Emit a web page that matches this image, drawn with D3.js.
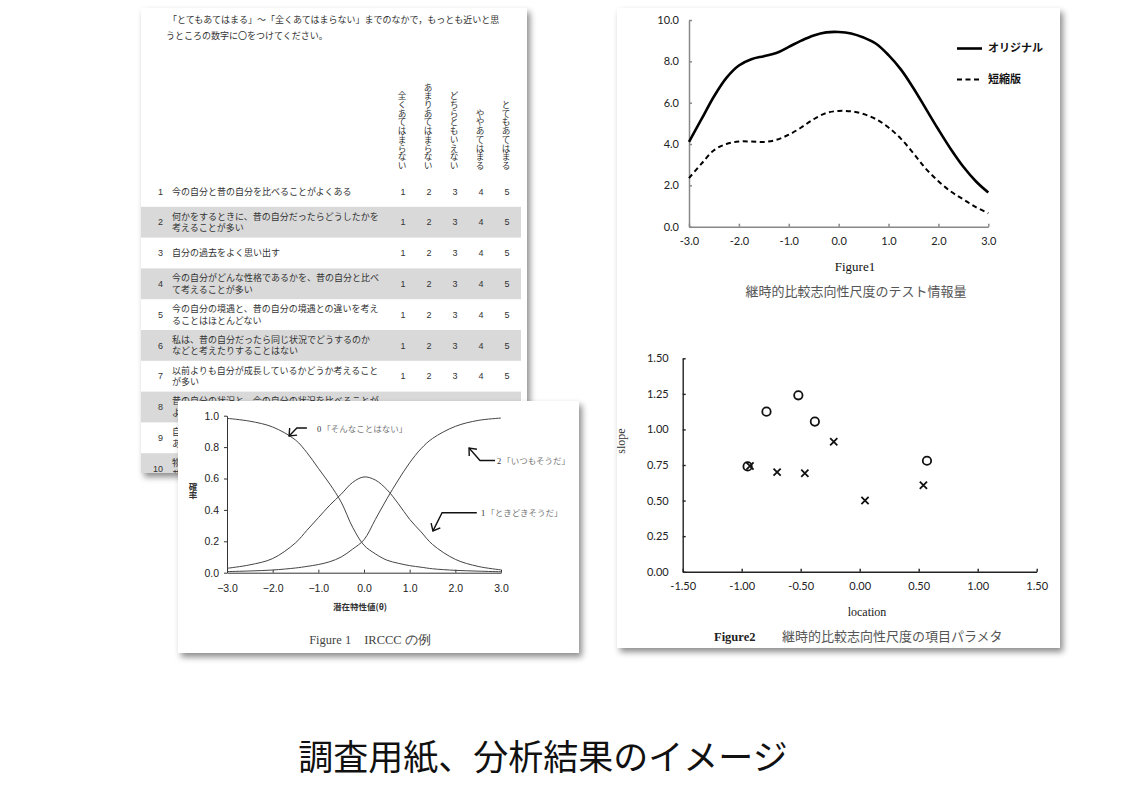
<!DOCTYPE html>
<html>
<head>
<meta charset="utf-8">
<script src="https://cdn.jsdelivr.net/npm/d3@7"></script>
<style>
  body { margin: 0; background: #fff; }
  svg { display: block; }
</style>
</head>
<body>
<svg id="chart" width="1129" height="805"></svg>
<script>
// ---- questionnaire sheet ----
const introLines = [
  '「とてもあてはまる」～「全くあてはまらない」までのなかで，もっとも近いと思',
  'うところの数字に〇をつけてください。'
];
const choiceLabels = ['全くあてはまらない', 'あまりあてはまらない', 'どちらともいえない', 'ややあてはまる', 'とてもあてはまる'];
const choiceValues = [1, 2, 3, 4, 5];
const itemNumbers = [1, 2, 3, 4, 5, 6, 7, 8, 9, 10];
const itemTexts = [
  ['今の自分と昔の自分を比べることがよくある'],
  ['何かをするときに、昔の自分だったらどうしたかを', '考えることが多い'],
  ['自分の過去をよく思い出す'],
  ['今の自分がどんな性格であるかを、昔の自分と比べ', 'て考えることが多い'],
  ['今の自分の境遇と、昔の自分の境遇との違いを考え', 'ることはほとんどない'],
  ['私は、昔の自分だったら同じ状況でどうするのか', 'などと考えたりすることはない'],
  ['以前よりも自分が成長しているかどうか考えること', 'が多い'],
  ['昔の自分の状況と、今の自分の状況を比べることが', 'よくある'],
  ['自分の考え方が昔と変わったかどうか考えることが', 'あまりない'],
  ['物事を判断するときに、昔の自分ならどうしたか', '昔と今を比べてしまう']
];

// ---- IRCCC example ----
const thetaPoints = [-3, -2.5, -2, -1.5, -1.25, -1, -0.75, -0.5, -0.25, 0, 0.25, 0.5, 0.75, 1, 1.25, 1.5, 2, 2.5, 3];
const probCat0 = [0.983, 0.965, 0.928, 0.845, 0.765, 0.665, 0.565, 0.45, 0.29, 0.175, 0.12, 0.08, 0.06, 0.045, 0.035, 0.025, 0.015, 0.01, 0.006];
const probCat1 = [0.028, 0.05, 0.09, 0.19, 0.27, 0.35, 0.43, 0.50, 0.575, 0.61, 0.59, 0.53, 0.44, 0.34, 0.26, 0.18, 0.085, 0.04, 0.018];
const probCat2 = [0.007, 0.011, 0.017, 0.03, 0.04, 0.052, 0.07, 0.10, 0.15, 0.21, 0.34, 0.47, 0.59, 0.70, 0.79, 0.855, 0.932, 0.97, 0.985];
const catNumbers = ['0', '1', '2'];
const catLabels = ['「そんなことはない」', '「ときどきそうだ」', '「いつもそうだ」'];
const probTicks = [0, 0.2, 0.4, 0.6, 0.8, 1.0];
const thetaTicks = [-3, -2, -1, 0, 1, 2, 3];

// ---- test information ----
const infoTheta = [-3, -2.75, -2.5, -2.25, -2, -1.75, -1.5, -1.25, -1, -0.75, -0.5, -0.25, 0, 0.25, 0.5, 0.75, 1, 1.25, 1.5, 1.75, 2, 2.25, 2.5, 2.75, 3];
const infoOriginal = [4.1, 5.2, 6.3, 7.2, 7.8, 8.1, 8.25, 8.4, 8.7, 9.0, 9.25, 9.4, 9.42, 9.35, 9.15, 8.85, 8.3, 7.6, 6.7, 5.7, 4.7, 3.75, 2.9, 2.2, 1.65];
const infoShort = [2.35, 3.05, 3.7, 4.0, 4.12, 4.12, 4.1, 4.2, 4.45, 4.8, 5.2, 5.5, 5.6, 5.58, 5.45, 5.2, 4.8, 4.25, 3.55, 2.8, 2.2, 1.7, 1.32, 0.95, 0.65];
const infoSeries = ['オリジナル', '短縮版'];
const infoTicks = [0, 2, 4, 6, 8, 10];

// ---- item parameters ----
const locCircle = [-0.95, -0.79, -0.52, -0.38, 0.57];
const slopeCircle = [0.74, 1.125, 1.24, 1.055, 0.78];
const locCross = [-0.93, -0.70, -0.465, -0.22, 0.045, 0.54];
const slopeCross = [0.743, 0.70, 0.692, 0.914, 0.50, 0.608];
const locTicks = [-1.5, -1, -0.5, 0, 0.5, 1, 1.5];
const slopeTicks = [0, 0.25, 0.5, 0.75, 1, 1.25, 1.5];

const JP = "'Noto Sans CJK JP', sans-serif";
const SERIF = "'Liberation Serif', serif";

// the IRCCC sheet is laid over the lower part of the questionnaire
const irccBox = { x: 178, y: 401, w: 401, h: 252 };

const svg = d3.select('#chart');
svg.append('rect').attr('width', 1129).attr('height', 805).attr('fill', '#fff');

const defs = svg.append('defs');
const shadow = defs.append('filter').attr('id', 'shadow')
  .attr('x', '-10%').attr('y', '-10%').attr('width', '125%').attr('height', '125%');
shadow.append('feDropShadow')
  .attr('dx', 3).attr('dy', 4).attr('stdDeviation', 3)
  .attr('flood-color', '#000').attr('flood-opacity', 0.45);

function panel(x, y, w, h, clipId) {
  svg.append('rect')
    .attr('x', x).attr('y', y).attr('width', w).attr('height', h)
    .attr('fill', '#fff').attr('filter', 'url(#shadow)');
  defs.append('clipPath').attr('id', clipId)
    .append('rect').attr('x', x).attr('y', y).attr('width', w).attr('height', h);
  return svg.append('g').attr('clip-path', `url(#${clipId})`);
}

function styleAxis(g, color, width, font, size) {
  g.select('.domain').attr('stroke', color).attr('stroke-width', width);
  g.selectAll('.tick line').attr('stroke', color).attr('stroke-width', width);
  g.selectAll('.tick text')
    .attr('font-family', font).attr('font-size', size).attr('fill', '#222');
}

// ================= questionnaire =================
const sheet = panel(141, 8, 386, 465, 'clip-sheet');

sheet.selectAll('.intro')
  .data(introLines)
  .enter()
  .append('text')
    .attr('x', (d, i) => i == 0 ? 168 : 166)
    .attr('y', (d, i) => 23 + i * 16)
    .attr('font-family', JP).attr('font-size', 9).attr('fill', '#333')
    .text(d => d);

const rowY = d3.scaleBand().domain(itemNumbers).range([176, 176 + 30.8 * 10]);
const choiceX = d3.scalePoint().domain(choiceValues).range([403, 507]);

sheet.selectAll('.header')
  .data(choiceLabels)
  .enter()
  .append('text')
    .attr('x', (d, i) => choiceX(choiceValues[i]) - 1)
    .attr('y', 170)
    .attr('text-anchor', 'end')
    .style('writing-mode', 'vertical-rl')
    .attr('font-family', JP).attr('font-size', 8.7).attr('fill', '#333')
    .text(d => d);

let rows = sheet.selectAll('.row')
  .data(itemNumbers)
  .enter()
  .append('g')
    .attr('transform', d => `translate(0,${rowY(d)})`);

rows.filter(d => d % 2 == 0)
  .append('rect')
    .attr('x', 141).attr('width', 380)
    .attr('height', rowY.bandwidth())
    .attr('fill', '#d9d9d9');

const mid = rowY.bandwidth() / 2;

rows.append('text')
  .attr('x', 163).attr('y', mid).attr('dy', '0.35em')
  .attr('text-anchor', 'end')
  .attr('font-family', 'Liberation Sans').attr('font-size', 9).attr('fill', '#333')
  .text(d => d);

rows.each(function(d, i) {
  let lines = itemTexts[i];
  d3.select(this).selectAll('.line')
    .data(lines)
    .enter()
    .append('text')
      .attr('x', 172)
      .attr('y', (l, j) => lines.length == 1 ? mid : mid + (j == 0 ? -5.8 : 5.8))
      .attr('dy', '0.35em')
      .attr('font-family', JP).attr('font-size', 9).attr('fill', '#333')
      // lines below the top of the IRCCC sheet only show their first character
      .text((l, j) => {
        let y = rowY(d) + (lines.length == 1 ? mid : mid + (j == 0 ? -5.8 : 5.8));
        return y > irccBox.y + 2 ? l.slice(0, 1) : l;
      });
});

rows.filter(d => rowY(d) + mid < irccBox.y)
  .selectAll('.num')
  .data(choiceValues)
  .enter()
  .append('text')
    .attr('x', d => choiceX(d)).attr('y', mid).attr('dy', '0.35em')
    .attr('text-anchor', 'middle')
    .attr('font-family', 'Liberation Sans').attr('font-size', 9).attr('fill', '#333')
    .text(d => d);

// ================= IRCCC example =================
const ircc = panel(irccBox.x, irccBox.y, irccBox.w, irccBox.h, 'clip-ircc');
const irX = d3.scaleLinear().domain([-3, 3]).range([227, 501]);
const irY = d3.scaleLinear().domain([0, 1]).range([572.7, 415.7]);

let irYAxis = ircc.append('g')
  .attr('transform', `translate(${irX(-3)},0)`)
  .call(d3.axisLeft(irY).tickValues(probTicks).tickFormat(d3.format('.1f'))
    .tickSizeInner(3).tickSizeOuter(0).tickPadding(5));
styleAxis(irYAxis, '#333', 1, 'Liberation Sans', 10.5);

let irXAxis = ircc.append('g')
  .attr('transform', `translate(0,${irY(0)})`)
  .call(d3.axisBottom(irX).tickValues(thetaTicks).tickFormat(d3.format('.1f'))
    .tickSizeInner(-3).tickSizeOuter(0).tickPadding(12));
styleAxis(irXAxis, '#333', 1, 'Liberation Sans', 10.5);

const irLine = d3.line()
  .x((d, i) => irX(thetaPoints[i]))
  .y(d => irY(d))
  .curve(d3.curveCatmullRom.alpha(0.5));

ircc.selectAll('.curve')
  .data([probCat0, probCat1, probCat2])
  .enter()
  .append('path')
    .attr('d', irLine)
    .attr('fill', 'none')
    .attr('stroke', '#444')
    .attr('stroke-width', 1);

// annotations: text position and arrow path in data units
const annotations = [
  { cat: 0, text: [-1.03, 0.896], path: [[-1.25, 0.922], [-1.47, 0.922], [-1.64, 0.871]] },
  { cat: 1, text: [2.56, 0.361], path: [[2.47, 0.382], [1.71, 0.382], [1.51, 0.266]] },
  { cat: 2, text: [2.91, 0.692], path: [[2.87, 0.715], [2.54, 0.715], [2.30, 0.794]] }
];

annotations.forEach(a => {
  let pts = a.path.map(p => [irX(p[0]), irY(p[1])]);
  let tip = pts[pts.length - 1];
  let prev = pts[pts.length - 2];
  let ang = Math.atan2(prev[1] - tip[1], prev[0] - tip[0]);
  let head = [-0.7, 0.7].map(o => [tip[0] + 8 * Math.cos(ang + o), tip[1] + 8 * Math.sin(ang + o)]);

  ircc.append('path')
    .attr('d', d3.line()(pts))
    .attr('fill', 'none').attr('stroke', '#111').attr('stroke-width', 1.4);
  ircc.append('path')
    .attr('d', d3.line()([head[0], tip, head[1]]))
    .attr('fill', 'none').attr('stroke', '#111').attr('stroke-width', 1.4);

  // number and label as two texts side by side
  let numText = ircc.append('text')
    .attr('x', irX(a.text[0])).attr('y', irY(a.text[1]))
    .attr('font-family', SERIF).attr('font-size', 8.5).attr('fill', '#333')
    .text(catNumbers[a.cat]);
  let w = numText.node().getComputedTextLength();
  ircc.append('text')
    .attr('x', irX(a.text[0]) + w + 1).attr('y', irY(a.text[1]))
    .attr('font-family', JP).attr('font-size', 8.5).attr('fill', '#777')
    .text(catLabels[a.cat]);
});

// vertical y title
ircc.append('text')
  .attr('x', 193).attr('y', 491)
  .attr('text-anchor', 'middle')
  .style('writing-mode', 'vertical-rl')
  .attr('font-family', JP).attr('font-size', 8.5).attr('font-weight', 'bold').attr('fill', '#333')
  .text('確率');

ircc.append('text')
  .attr('x', 360).attr('y', 610)
  .attr('text-anchor', 'middle')
  .attr('font-family', JP).attr('font-size', 8.5).attr('font-weight', 'bold').attr('fill', '#333')
  .text('潜在特性値(θ)');

ircc.append('text')
  .attr('x', 370).attr('y', 644)
  .attr('text-anchor', 'middle')
  .attr('font-family', SERIF).attr('font-size', 12.5).attr('fill', '#444')
  .text('Figure 1　IRCCC の例');

// ================= right panel =================
const right = panel(617, 8, 443, 640, 'clip-right');

// test information
const infX = d3.scaleLinear().domain([-3, 3]).range([689, 988.3]);
const infY = d3.scaleLinear().domain([0, 10]).range([226.7, 20]);

let infYAxis = right.append('g')
  .attr('transform', `translate(${infX(-3)},0)`)
  .call(d3.axisLeft(infY).tickValues(infoTicks).tickFormat(d => d.toFixed(1))
    .tickSizeInner(-3).tickSizeOuter(0).tickPadding(10));
styleAxis(infYAxis, '#888', 1.5, 'Lato', 11);

let infXAxis = right.append('g')
  .attr('transform', `translate(0,${infY(0)})`)
  .call(d3.axisBottom(infX).tickValues(thetaTicks).tickFormat(d => d.toFixed(1))
    .tickSizeInner(-3).tickSizeOuter(0).tickPadding(11));
styleAxis(infXAxis, '#888', 1.5, 'Lato', 11);

const infLine = d3.line()
  .x((d, i) => infX(infoTheta[i]))
  .y(d => infY(d))
  .curve(d3.curveCatmullRom.alpha(0.5));

right.append('path')
  .attr('d', infLine(infoOriginal))
  .attr('fill', 'none').attr('stroke', '#000').attr('stroke-width', 2.6);

right.append('path')
  .attr('d', infLine(infoShort))
  .attr('fill', 'none').attr('stroke', '#000').attr('stroke-width', 2)
  .attr('stroke-dasharray', '5,3.5');

let legend = right.selectAll('.legend')
  .data(infoSeries)
  .enter()
  .append('g')
    .attr('transform', (d, i) => `translate(957,${48.5 + i * 31})`);

legend.append('line')
  .attr('x1', 0).attr('x2', 25)
  .attr('stroke', '#000')
  .attr('stroke-width', (d, i) => i == 0 ? 2.6 : 2)
  .attr('stroke-dasharray', (d, i) => i == 0 ? null : '5,3.5');

legend.append('text')
  .attr('x', 31).attr('dy', '0.35em')
  .attr('font-family', JP).attr('font-size', 11).attr('font-weight', 'bold').attr('fill', '#111')
  .text(d => d);

right.append('text')
  .attr('x', 855).attr('y', 271)
  .attr('text-anchor', 'middle')
  .attr('font-family', SERIF).attr('font-size', 13).attr('fill', '#111')
  .text('Figure1');

right.append('text')
  .attr('x', 856).attr('y', 296)
  .attr('text-anchor', 'middle')
  .attr('font-family', JP).attr('font-size', 13).attr('fill', '#555')
  .text('継時的比較志向性尺度のテスト情報量');

// item parameters
const scX = d3.scaleLinear().domain([-1.5, 1.5]).range([682.7, 1036.7]);
const scY = d3.scaleLinear().domain([0, 1.5]).range([571.7, 358.3]);

let scYAxis = right.append('g')
  .attr('transform', `translate(${scX(-1.5)},0)`)
  .call(d3.axisLeft(scY).tickValues(slopeTicks).tickFormat(d => d.toFixed(2))
    .tickSizeInner(-3).tickSizeOuter(0).tickPadding(14));
styleAxis(scYAxis, '#222', 1.4, 'Lato', 11);

let scXAxis = right.append('g')
  .attr('transform', `translate(0,${scY(0)})`)
  .call(d3.axisBottom(scX).tickValues(locTicks).tickFormat(d => d.toFixed(2))
    .tickSizeInner(-3).tickSizeOuter(0).tickPadding(11));
styleAxis(scXAxis, '#222', 1.4, 'Lato', 11);

right.selectAll('.circle')
  .data(locCircle)
  .enter()
  .append('circle')
    .attr('cx', d => scX(d))
    .attr('cy', (d, i) => scY(slopeCircle[i]))
    .attr('r', 4.2)
    .attr('fill', 'none').attr('stroke', '#111').attr('stroke-width', 1.8);

right.selectAll('.cross')
  .data(locCross)
  .enter()
  .append('path')
    .attr('transform', (d, i) => `translate(${scX(d)},${scY(slopeCross[i])})`)
    .attr('d', 'M-3.6,-3.6L3.6,3.6M-3.6,3.6L3.6,-3.6')
    .attr('stroke', '#111').attr('stroke-width', 1.8);

right.append('text')
  .attr('transform', 'translate(625,441) rotate(-90)')
  .attr('text-anchor', 'middle')
  .attr('font-family', SERIF).attr('font-size', 12).attr('fill', '#333')
  .text('slope');

right.append('text')
  .attr('x', 867).attr('y', 616)
  .attr('text-anchor', 'middle')
  .attr('font-family', SERIF).attr('font-size', 12).attr('fill', '#222')
  .text('location');

right.append('text')
  .attr('x', 714).attr('y', 641)
  .attr('font-family', SERIF).attr('font-size', 12.5).attr('font-weight', 'bold').attr('fill', '#222')
  .text('Figure2');

right.append('text')
  .attr('x', 782).attr('y', 641)
  .attr('font-family', JP).attr('font-size', 13).attr('fill', '#555')
  .text('継時的比較志向性尺度の項目パラメタ');

// ================= title =================
svg.append('text')
  .attr('x', 543).attr('y', 770)
  .attr('text-anchor', 'middle')
  .attr('font-family', JP).attr('font-size', 35).attr('fill', '#111')
  .text('調査用紙、分析結果のイメージ');
</script>
</body>
</html>
